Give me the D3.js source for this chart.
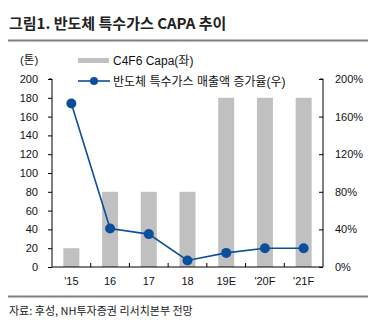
<!DOCTYPE html>
<html><head><meta charset="utf-8">
<script src="https://cdn.jsdelivr.net/npm/d3@7"></script>
<style>
body{margin:0;background:#fff;}
text{font-family:"Liberation Sans","Noto Sans CJK KR",Arial,sans-serif;}
</style></head>
<body><svg id="c" width="379" height="328"></svg>
<script>
const categories = ["'15","16","17","18","19E","'20F","'21F"];
const capa = [20,80,80,80,180,180,180];
const growth = [174,41,35,7,15,20,20];
const leftTicks = [0,20,40,60,80,100,120,140,160,180,200];
const rightTicks = [0,40,80,120,160,200];

const svg = d3.select("#c");
const m = {l:52, r:323, t:79, b:267};
const xb = d3.scaleBand().domain(categories).range([m.l, m.r]);
const yL = d3.scaleLinear().domain([0,200]).range([m.b, m.t]);
const yR = d3.scaleLinear().domain([0,200]).range([m.b, m.t]);
const font = "\"Liberation Sans\",\"Noto Sans CJK KR\",sans-serif";

// title
svg.append("text").attr("x",9).attr("y",29).attr("font-size",15).attr("font-weight","bold")
  .attr("fill","#222").style("font-family","\"Noto Sans CJK KR\",sans-serif").text("그림1. 반도체 특수가스 CAPA 추이");
svg.append("line").attr("x1",8).attr("x2",368).attr("y1",40.5).attr("y2",40.5).attr("stroke","#7f7f7f").attr("stroke-width",2);
svg.append("line").attr("x1",8).attr("x2",368).attr("y1",296.5).attr("y2",296.5).attr("stroke","#7f7f7f").attr("stroke-width",2);
svg.append("text").attr("x",9).attr("y",315).attr("font-size",11).attr("fill","#222")
  .style("font-family","\"Noto Sans CJK KR\",sans-serif").text("자료: 후성, NH투자증권 리서치본부 전망");

// bars
svg.append("g").selectAll("rect").data(capa).join("rect")
  .attr("x",(d,i)=>xb(categories[i]) + xb.bandwidth()/2 - 8)
  .attr("width",16)
  .attr("y",d=>yL(d)).attr("height",d=>yL(0)-yL(d)).attr("fill","#c0c0c0");

// axes
const axL = svg.append("g").attr("transform",`translate(${m.l},0)`)
  .call(d3.axisLeft(yL).tickValues(leftTicks).tickSize(4).tickPadding(10));
const axR = svg.append("g").attr("transform",`translate(${m.r},0)`)
  .call(d3.axisRight(yR).tickValues(rightTicks).tickSize(-4).tickPadding(12).tickFormat(d=>d+"%"));
const axB = svg.append("g").attr("transform",`translate(0,${m.b})`)
  .call(d3.axisBottom(xb).tickSize(0).tickPadding(10));
svg.append("g").selectAll("line").data(categories.slice(1)).join("line")
  .attr("x1",d=>xb(d)).attr("x2",d=>xb(d)).attr("y1",m.b).attr("y2",m.b-4).attr("stroke","#000");
[axL,axR,axB].forEach(a=>{
  a.select(".domain").attr("stroke","#000");
  a.selectAll(".tick line").attr("stroke","#000");
  a.selectAll("text").attr("font-size",11).attr("fill","#111").style("font-family",font);
});
axB.select(".domain").attr("d",`M${m.l},0H${m.r}`);
axL.select(".domain").attr("d",`M-3,${m.t}H0V${m.b}`);
axR.select(".domain").attr("d",`M-3,${m.t}H0V${m.b}`);

// line
const line = d3.line().x((d,i)=>xb(categories[i])+xb.bandwidth()/2).y(d=>yR(d));
svg.append("path").datum(growth).attr("d",line).attr("fill","none").attr("stroke","#0b4f9c").attr("stroke-width",1.6);
svg.append("g").selectAll("circle").data(growth).join("circle")
  .attr("cx",(d,i)=>xb(categories[i])+xb.bandwidth()/2).attr("cy",d=>yR(d)).attr("r",5).attr("fill","#0b4f9c");

// legend
svg.append("text").attr("x",20).attr("y",64).attr("font-size",11.5).attr("fill","#111").style("font-family",font).text("(톤)");
svg.append("rect").attr("x",78).attr("y",58).attr("width",31).attr("height",5).attr("fill","#c0c0c0");
svg.append("text").attr("x",113).attr("y",64.5).attr("font-size",12).attr("fill","#111").style("font-family",font).text("C4F6 Capa(좌)");
svg.append("line").attr("x1",78).attr("x2",110).attr("y1",81).attr("y2",81).attr("stroke","#0b4f9c").attr("stroke-width",1.6);
svg.append("circle").attr("cx",94).attr("cy",81).attr("r",4).attr("fill","#0b4f9c");
svg.append("text").attr("x",113).attr("y",85.5).attr("font-size",12).attr("fill","#111").style("font-family",font).text("반도체 특수가스 매출액 증가율(우)");
</script></body></html>
